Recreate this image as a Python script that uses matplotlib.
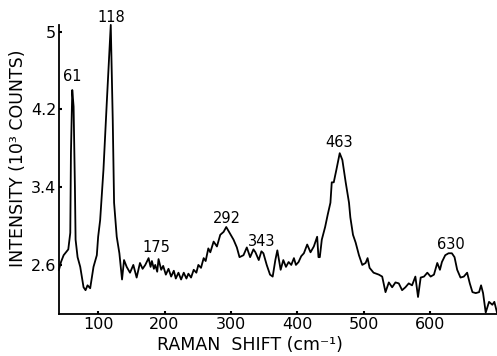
import matplotlib
matplotlib.use("Agg")
import matplotlib.pyplot as plt

# Raman spectrum (cm-1, 10^3 counts)
shift = [41, 44, 48, 55, 58, 59, 61, 63, 65, 66, 69, 73, 78, 81, 84, 88, 93, 98,
         100, 103, 108, 113, 117, 119, 122, 124, 128, 132, 136, 139, 143, 148,
         153, 158, 163, 167, 171, 176, 179, 181, 184, 186, 189, 191, 195, 198,
         202, 206, 210, 214, 217, 221, 225, 229, 233, 236, 240, 244, 248, 251,
         255, 259, 262, 266, 269, 274, 279, 284, 289, 293, 298, 304, 309, 313,
         319, 324, 329, 334, 337, 342, 346, 349, 354, 359, 363, 367, 370, 375,
         379, 383, 387, 391, 395, 398, 402, 406, 410, 415, 420, 425, 430, 432,
         434, 437, 442, 446, 450, 452, 455, 459, 464, 468, 473, 478, 480, 484,
         488, 493, 498, 503, 506, 509, 515, 523, 528, 533, 538, 543, 548, 553,
         558, 563, 568, 573, 578, 582, 586, 591, 596, 601, 606, 611, 615, 618,
         623, 628, 633, 637, 641, 646, 651, 656, 660, 664, 669, 674, 677, 680,
         684, 689, 694, 697, 701]
intensity = [2.55, 2.63, 2.70, 2.76, 2.93, 3.75, 4.40, 4.23, 3.40, 2.86, 2.68,
             2.58, 2.37, 2.34, 2.39, 2.36, 2.58, 2.70, 2.89, 3.06, 3.58, 4.27,
             4.79, 5.07, 4.09, 3.24, 2.89, 2.72, 2.45, 2.65, 2.58, 2.52, 2.60,
             2.47, 2.62, 2.56, 2.60, 2.67, 2.58, 2.64, 2.56, 2.60, 2.53, 2.66,
             2.55, 2.59, 2.50, 2.56, 2.48, 2.54, 2.46, 2.52, 2.45, 2.52, 2.46,
             2.51, 2.47, 2.55, 2.52, 2.60, 2.57, 2.67, 2.64, 2.77, 2.73, 2.84,
             2.79, 2.91, 2.94, 2.99, 2.93, 2.86, 2.78, 2.68, 2.70, 2.78, 2.68,
             2.76, 2.73, 2.65, 2.74, 2.72, 2.60, 2.50, 2.48, 2.65, 2.75, 2.55,
             2.65, 2.58, 2.63, 2.60, 2.67, 2.60, 2.63, 2.69, 2.72, 2.81, 2.73,
             2.79, 2.89, 2.68, 2.68, 2.86, 2.99, 3.12, 3.24, 3.45, 3.45, 3.58,
             3.75, 3.68, 3.45, 3.24, 3.09, 2.91, 2.83, 2.70, 2.60, 2.62, 2.67,
             2.57, 2.52, 2.50, 2.48, 2.32, 2.42, 2.37, 2.42, 2.41, 2.34, 2.37,
             2.41, 2.39, 2.48, 2.27, 2.47, 2.48, 2.52, 2.48, 2.50, 2.62, 2.55,
             2.63, 2.70, 2.72, 2.72, 2.68, 2.55, 2.47, 2.48, 2.52, 2.41, 2.32,
             2.31, 2.32, 2.39, 2.31, 2.11, 2.22, 2.19, 2.22, 2.11]

# peak annotations: label, x, y
peak_labels = ["61", "118", "175", "292", "343", "463", "630"]
peak_x = [61, 120, 187, 294, 347, 463, 631]
peak_y = [4.54, 5.15, 2.78, 3.08, 2.84, 3.86, 2.81]

xticks = [100, 200, 300, 400, 500, 600]
yticks = [2.6, 3.4, 4.2, 5.0]
ytick_labels = ["2.6", "3.4", "4.2", "5"]

plt.rcParams['font.family'] = ['DejaVu Sans']

fig = plt.figure(figsize=(4.97, 3.56), dpi=100)
ax = fig.add_axes([0.1187, 0.118, 0.8813, 0.812])

ax.plot(shift, intensity, color="black", linewidth=1.3, clip_on=False)

for lab, px, py in zip(peak_labels, peak_x, peak_y):
    ax.text(px, py, lab, ha="center", va="center", fontsize=10.5, clip_on=False)

ax.set_xlim(41, 701)
ax.set_ylim(2.095, 5.07)
ax.set_xticks(xticks)
ax.set_yticks(yticks)
ax.set_yticklabels(ytick_labels)
ax.tick_params(direction="in", length=2.5, width=1.5, labelsize=11.5, pad=2)

for s in ["top", "right"]:
    ax.spines[s].set_visible(False)
for s in ["left", "bottom"]:
    ax.spines[s].set_linewidth(1.3)

fig.text(0.503, 0.03, "RAMAN  SHIFT (cm\u207b\u00b9)", ha="center", va="center", fontsize=12.5)
fig.text(0.036, 0.555, "INTENSITY (10\u00b3 COUNTS)", ha="center", va="center",
         rotation=90, fontsize=12.5)

plt.savefig("out.png", dpi=100)
